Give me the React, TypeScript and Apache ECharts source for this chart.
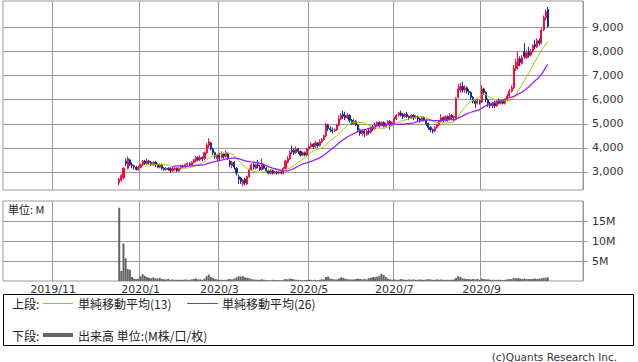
import React, { useEffect, useRef } from "react";
import * as echarts from "echarts";

// Trading calendar (TSE holidays falling on weekdays)
const HOLIDAYS = [
  "2019-10-14", "2019-10-22", "2019-11-04", "2019-12-31", "2020-01-01", "2020-01-02",
  "2020-01-03", "2020-01-13", "2020-02-11", "2020-02-24", "2020-03-20", "2020-04-29",
  "2020-05-04", "2020-05-05", "2020-05-06", "2020-07-23", "2020-07-24", "2020-08-10",
  "2020-09-21", "2020-09-22", "2020-11-03",
];
const CAL_START = "2019-09-27";
const CAL_END = "2020-11-10";
const DATA_START = "2019-12-17";
const LAST_MARK = "2020-09";

// [open, close, low, high] per trading day from DATA_START
const OHLC_DEC = [
  [2550, 2700, 2450, 2750], [2650, 2850, 2600, 2900], [2750, 3150, 2700, 3200], [3450, 3350, 3250, 3550],
  [3150, 3550, 3100, 3650], [3500, 3300, 3250, 3550], [3300, 3250, 3150, 3400], [3250, 3200, 3100, 3300],
  [3200, 3100, 3050, 3250], [3100, 3200, 3050, 3250],
];
const OHLC_JAN = [
  [3200, 3300, 3150, 3350], [3300, 3450, 3250, 3500], [3450, 3350, 3300, 3500], [3350, 3450, 3300, 3550],
  [3450, 3400, 3300, 3500], [3400, 3300, 3250, 3450], [3300, 3400, 3250, 3450], [3400, 3300, 3200, 3450],
  [3300, 3200, 3150, 3350], [3200, 3300, 3150, 3350], [3300, 3150, 3100, 3350], [3150, 3100, 3050, 3200],
  [3100, 3150, 3050, 3200], [3150, 3100, 3050, 3200], [3150, 3050, 2950, 3200], [3050, 3150, 3000, 3200],
  [3100, 3150, 3050, 3200], [3150, 3050, 3000, 3200], [3050, 3150, 3000, 3200],
];
const OHLC_FEB = [
  [3150, 3250, 3100, 3300], [3250, 3200, 3150, 3300], [3200, 3300, 3150, 3350], [3300, 3350, 3250, 3400],
  [3350, 3300, 3250, 3400], [3300, 3400, 3250, 3450], [3400, 3500, 3350, 3550], [3450, 3600, 3400, 3650],
  [3600, 3500, 3450, 3650], [3500, 3600, 3450, 3700], [3600, 3550, 3450, 3650], [3550, 3800, 3500, 3850],
  [3800, 4100, 3750, 4200], [4100, 4250, 4000, 4400], [4200, 3950, 3900, 4250], [3950, 3800, 3700, 4000],
  [3800, 3650, 3550, 3850], [3550, 3700, 3450, 3750],
];
const OHLC_MAR = [
  [3700, 3600, 3500, 3800], [3600, 3750, 3550, 3850], [3750, 3650, 3550, 3800], [3650, 3800, 3600, 3900],
  [3750, 3550, 3500, 3800], [3450, 3300, 3200, 3500], [3250, 3400, 3150, 3450], [3400, 3200, 3100, 3450],
  [3150, 2950, 2850, 3200], [2800, 2700, 2500, 2900], [2750, 2600, 2500, 2800], [2500, 2650, 2400, 2700],
  [2700, 2550, 2450, 2750], [2500, 2800, 2450, 2850], [2800, 3100, 2750, 3150], [3100, 3300, 3050, 3350],
  [3300, 3200, 3100, 3400], [3150, 3300, 3100, 3350], [3300, 3250, 3150, 3500], [3200, 3100, 3050, 3300],
  [3100, 3350, 3050, 3550],
];
const OHLC_APR = [
  [3300, 3150, 3100, 3350], [3150, 3050, 3000, 3200], [3050, 2950, 2900, 3100], [2950, 3050, 2900, 3100],
  [3050, 2950, 2900, 3100], [2950, 3000, 2900, 3050], [3000, 2950, 2900, 3050], [2950, 3000, 2900, 3050],
  [3000, 2950, 2900, 3050], [2950, 3150, 2900, 3200], [3150, 3450, 3100, 3500], [3400, 3550, 3350, 3650],
  [3550, 3800, 3500, 3900], [3900, 3850, 3750, 4100], [3900, 3800, 3700, 4000], [3800, 3950, 3750, 4050],
  [3950, 3850, 3750, 4000], [3850, 3700, 3650, 3900], [3700, 3800, 3650, 3850], [3800, 3700, 3650, 3850],
  [3700, 3950, 3650, 4000],
];
const OHLC_MAY = [
  [3950, 4050, 3900, 4100], [4050, 4150, 4000, 4250], [4150, 4050, 3950, 4200], [4050, 4200, 4000, 4300],
  [4200, 4100, 4000, 4250], [4100, 4250, 4050, 4350], [4250, 4350, 4200, 4400], [4350, 4500, 4300, 4550],
  [4500, 4950, 4450, 5050], [4950, 4800, 4700, 5000], [4800, 4750, 4650, 4900], [4750, 4700, 4600, 4850],
  [4700, 4750, 4650, 4800], [4750, 4950, 4700, 5000], [4950, 5200, 4900, 5350], [5200, 5350, 5150, 5450],
  [5400, 5300, 5200, 5550], [5350, 5250, 5150, 5500],
];
const OHLC_JUN = [
  [5250, 5350, 5200, 5450], [5350, 5150, 5050, 5400], [5150, 5000, 4950, 5200], [5000, 5100, 4950, 5200],
  [5100, 4950, 4900, 5150], [4950, 4750, 4650, 5000], [4750, 4600, 4500, 4800], [4600, 4700, 4500, 4750],
  [4700, 4600, 4450, 4750], [4550, 4700, 4500, 4750], [4700, 4650, 4550, 4800], [4650, 4850, 4600, 4900],
  [4850, 4800, 4700, 4950], [4800, 4950, 4750, 5050], [4950, 5050, 4900, 5100], [5050, 4950, 4850, 5100],
  [4950, 5050, 4900, 5100], [5050, 4900, 4850, 5100], [4900, 5000, 4850, 5050], [5000, 5100, 4950, 5150],
  [5100, 4950, 4750, 5150], [4950, 5050, 4900, 5100],
];
const OHLC_JUL = [
  [5050, 5200, 5000, 5300], [5200, 5350, 5150, 5400], [5350, 5450, 5300, 5500], [5450, 5350, 5300, 5550],
  [5400, 5300, 5200, 5450], [5300, 5400, 5250, 5450], [5400, 5300, 5250, 5500], [5300, 5250, 5150, 5350],
  [5250, 5350, 5200, 5400], [5350, 5250, 5150, 5400], [5250, 5300, 5200, 5350], [5300, 5200, 5100, 5350],
  [5200, 5150, 5050, 5250], [5150, 5250, 5100, 5300], [5250, 5150, 5100, 5300], [5150, 5000, 4900, 5200],
  [5000, 4850, 4750, 5050], [4850, 4750, 4650, 4900], [4750, 4700, 4600, 4800], [4700, 4850, 4650, 4900],
  [4850, 4950, 4800, 5000],
];
const OHLC_AUG = [
  [4950, 5100, 4900, 5150], [5100, 5250, 5050, 5400], [5250, 5150, 5050, 5300], [5150, 5300, 5100, 5350],
  [5300, 5200, 5100, 5350], [5200, 5350, 5150, 5450], [5350, 5250, 5150, 5400], [5250, 5300, 5100, 5350],
  [5250, 6050, 5200, 6100], [6100, 6450, 6050, 6650], [6400, 6550, 6300, 6700], [6550, 6400, 6300, 6750],
  [6400, 6500, 6300, 6600], [6500, 6350, 6250, 6550], [6350, 6300, 6200, 6450], [6300, 6100, 6000, 6350],
  [6100, 5950, 5850, 6150], [5950, 5850, 5650, 6000], [5850, 5950, 5800, 6050], [5950, 5900, 5800, 6000],
];
const OHLC_SEP = [
  [5900, 6450, 5850, 6600], [6450, 6300, 6200, 6500], [6300, 6000, 5900, 6350], [6000, 5850, 5700, 6050],
  [5850, 5750, 5650, 5900], [5750, 5850, 5650, 5900], [5850, 5750, 5650, 5950], [5750, 5950, 5700, 6000],
  [5950, 5850, 5800, 6050], [5850, 5950, 5800, 6000], [5950, 5850, 5800, 6000], [5850, 6000, 5800, 6050],
  [6000, 6150, 5950, 6250], [6150, 6350, 6100, 6450], [6350, 6500, 6300, 6600], [6500, 7300, 6450, 7450],
  [7300, 7550, 7200, 7700], [7400, 7700, 7250, 8000], [7700, 7550, 7400, 7800], [7500, 7750, 7450, 7850],
];
const OHLC_OCT = [
  [8000, 7800, 7700, 8350], [7750, 7950, 7700, 8050], [8000, 7850, 7750, 8200], [7850, 8000, 7800, 8100],
  [8000, 8250, 7950, 8300], [8300, 8200, 8100, 8500], [8200, 8450, 8150, 8550], [8450, 8350, 8250, 8550],
  [8350, 8900, 8300, 9000], [8900, 9400, 8850, 9500], [9400, 9650, 9300, 9750], [9750, 9050, 9000, 9850],
];

// Volume in millions of shares, per trading day from DATA_START
const VOL_DEC = [18.3, 2.5, 9.4, 5.7, 3.0, 2.8, 1.0, 0.6, 0.5, 0.6];
const VOL_JAN = [1.2, 1.7, 1.3, 1.0, 0.8, 0.7, 0.9, 0.7, 0.6, 0.8, 0.5, 0.4, 0.4, 0.5, 0.3, 0.4, 0.3, 0.3, 0.3];
const VOL_FEB = [0.3, 0.3, 0.4, 0.3, 0.3, 0.4, 0.5, 0.6, 0.4, 0.4, 0.3, 0.6, 1.2, 1.6, 1.0, 0.7, 0.5, 0.4];
const VOL_MAR = [0.3, 0.3, 0.2, 0.3, 0.4, 0.5, 0.4, 0.6, 0.9, 1.2, 1.1, 1.2, 0.9, 0.8, 0.7, 0.5, 0.4, 0.3, 0.3, 0.3, 0.4];
const VOL_APR = [0.3, 0.2, 0.2, 0.2, 0.3, 0.2, 0.2, 0.2, 0.2, 0.3, 0.5, 0.4, 0.6, 0.5, 0.4, 0.3, 0.3, 0.2, 0.2, 0.2, 0.3];
const VOL_MAY = [0.3, 0.3, 0.2, 0.3, 0.2, 0.3, 0.4, 0.4, 1.0, 1.1, 0.6, 0.5, 0.4, 0.4, 0.6, 0.9, 0.8, 0.6];
const VOL_JUN = [0.5, 0.4, 0.4, 0.4, 0.5, 0.6, 0.5, 0.4, 0.5, 0.4, 0.7, 0.8, 1.0, 0.9, 1.1, 1.3, 1.8, 1.5, 1.0, 0.6, 0.4, 0.3];
const VOL_JUL = [0.4, 0.3, 0.3, 0.5, 0.4, 0.3, 0.3, 0.4, 0.3, 0.4, 0.3, 0.3, 0.4, 0.3, 0.3, 0.4, 0.5, 0.4, 0.3, 0.3, 0.4];
const VOL_AUG = [0.3, 0.4, 0.3, 0.3, 0.3, 0.3, 0.3, 0.4, 0.8, 1.2, 1.0, 0.7, 0.6, 0.5, 0.5, 0.4, 0.5, 0.4, 0.5, 0.3];
const VOL_SEP = [0.6, 0.5, 0.4, 0.4, 0.3, 0.3, 0.3, 0.3, 0.3, 0.3, 0.2, 0.3, 0.4, 0.5, 0.5, 0.8, 0.7, 0.7, 0.6, 0.5];
const VOL_OCT = [0.6, 0.5, 0.5, 0.5, 0.5, 0.6, 0.5, 0.6, 0.7, 0.8, 0.8, 0.9];

const PRICE_TICKS = [3000, 4000, 5000, 6000, 7000, 8000, 9000];
const VOLUME_TICKS = [5, 10, 15];

const RED = "#ff0a3c";
const BLUE = "#0a3296";
const GREEN = "#99cc00";
const PURPLE = "#9a22f0";
const GRAY = "#666666";
const GRID = "#999999";
const JP = "'Noto Sans CJK JP', 'DejaVu Sans', sans-serif";
const NUM = "'DejaVu Sans', sans-serif";

function tradingDays(): string[] {
  const out: string[] = [];
  const d = new Date(CAL_START + "T00:00:00Z");
  const end = new Date(CAL_END + "T00:00:00Z");
  while (d <= end) {
    const wd = d.getUTCDay();
    const s = d.toISOString().slice(0, 10);
    if (wd !== 0 && wd !== 6 && HOLIDAYS.indexOf(s) < 0) out.push(s);
    d.setUTCDate(d.getUTCDate() + 1);
  }
  return out;
}

function movingAverage(closes: (number | null)[], n: number): (number | string)[] {
  return closes.map((_, i) => {
    if (i < n - 1) return "-";
    let s = 0;
    for (let j = i - n + 1; j <= i; j++) {
      const v = closes[j];
      if (v == null) return "-";
      s += v;
    }
    return Math.round(s / n);
  });
}

export default function App() {
  const ref = useRef<HTMLDivElement>(null);

  useEffect(() => {
    if (!ref.current) return;
    const chart = echarts.init(ref.current, undefined, { renderer: "svg" });

    const dates = tradingDays();
    const ohlc = [
      ...OHLC_DEC, ...OHLC_JAN, ...OHLC_FEB, ...OHLC_MAR, ...OHLC_APR, ...OHLC_MAY,
      ...OHLC_JUN, ...OHLC_JUL, ...OHLC_AUG, ...OHLC_SEP, ...OHLC_OCT,
    ];
    const vols = [
      ...VOL_DEC, ...VOL_JAN, ...VOL_FEB, ...VOL_MAR, ...VOL_APR, ...VOL_MAY,
      ...VOL_JUN, ...VOL_JUL, ...VOL_AUG, ...VOL_SEP, ...VOL_OCT,
    ];
    const startIdx = dates.indexOf(DATA_START);
    const candle: any[] = dates.map((_, i) => {
      const k = i - startIdx;
      return k >= 0 && k < ohlc.length ? ohlc[k] : "-";
    });
    const volume: any[] = dates.map((_, i) => {
      const k = i - startIdx;
      return k >= 0 && k < vols.length ? vols[k] : "-";
    });
    const closes = dates.map((_, i) => {
      const k = i - startIdx;
      return k >= 0 && k < ohlc.length ? ohlc[k][1] : null;
    });
    const ma13 = movingAverage(closes, 13);
    const ma26 = movingAverage(closes, 26);

    const isMark = (index: number) => {
      if (index <= 0) return false;
      if (dates[index].slice(0, 7) > LAST_MARK) return false;
      const m = dates[index].slice(5, 7);
      if (m === dates[index - 1].slice(5, 7)) return false;
      return parseInt(m, 10) % 2 === 1;
    };

    const option: any = {
      animation: false,
      textStyle: { fontFamily: NUM },
      grid: [
        { left: 3, top: 1, width: 580, height: 189, show: true, borderColor: GRID, borderWidth: 1 },
        { left: 3, top: 201, width: 580, height: 80, show: true, borderColor: GRID, borderWidth: 1 },
      ],
      xAxis: [
        {
          type: "category", gridIndex: 0, data: dates, boundaryGap: true,
          axisLine: { show: false }, axisTick: { show: false }, axisLabel: { show: false },
          splitLine: { show: true, interval: (i: number) => isMark(i), lineStyle: { color: GRID, width: 1 } },
        },
        {
          type: "category", gridIndex: 1, data: dates, boundaryGap: true,
          axisLine: { show: false }, axisTick: { show: false },
          axisLabel: {
            show: true, interval: (i: number) => isMark(i), margin: 3, fontSize: 11, color: "#333",
            fontFamily: NUM,
            formatter: (v: string) => `${v.slice(0, 4)}/${parseInt(v.slice(5, 7), 10)}`,
          },
          splitLine: { show: true, interval: (i: number) => isMark(i), lineStyle: { color: GRID, width: 1 } },
        },
      ],
      yAxis: [
        {
          type: "value", gridIndex: 0, position: "right", min: 2250, max: 10100, scale: true,
          axisLine: { show: false },
          axisTick: { show: true, length: 5, customValues: PRICE_TICKS, lineStyle: { color: GRID } },
          axisLabel: {
            customValues: PRICE_TICKS, margin: 9, fontSize: 11, color: "#333", fontFamily: NUM,
            formatter: (v: number) => v.toLocaleString("en-US"),
          },
          splitLine: { show: true, lineStyle: { color: GRID, width: 1 } },
        },
        {
          type: "value", gridIndex: 1, position: "right", min: 0, max: 20,
          axisLine: { show: false },
          axisTick: { show: true, length: 5, customValues: VOLUME_TICKS, lineStyle: { color: GRID } },
          axisLabel: {
            customValues: VOLUME_TICKS, margin: 9, fontSize: 11, color: "#333", fontFamily: NUM,
            formatter: (v: number) => `${v}M`,
          },
          splitLine: { show: true, lineStyle: { color: GRID, width: 1 } },
        },
      ],
      series: [
        {
          type: "candlestick", xAxisIndex: 0, yAxisIndex: 0, data: candle, barWidth: 1.6,
          itemStyle: { color: RED, color0: BLUE, borderColor: RED, borderColor0: BLUE, borderWidth: 1 },
        },
        {
          type: "line", xAxisIndex: 0, yAxisIndex: 0, data: ma13, showSymbol: false, symbol: "none",
          lineStyle: { color: GREEN, width: 1 }, z: 3,
        },
        {
          type: "line", xAxisIndex: 0, yAxisIndex: 0, data: ma26, showSymbol: false, symbol: "none",
          lineStyle: { color: PURPLE, width: 1.3 }, z: 3,
        },
        {
          type: "bar", xAxisIndex: 1, yAxisIndex: 1, data: volume, barCategoryGap: "5%",
          itemStyle: { color: GRAY },
        },
      ],
      graphic: [
        { type: "text", left: 8, top: 203, style: { text: "単位: M", font: `11px ${JP}`, fill: "#222" } },
        {
          type: "rect", shape: { x: 3.5, y: 294.5, width: 630, height: 51 },
          style: { fill: "none", stroke: "#000", lineWidth: 1 },
        },
        { type: "text", x: 12, y: 303, style: { text: "上段:", font: `12px ${JP}`, fill: "#222", textVerticalAlign: "middle" } },
        { type: "line", shape: { x1: 43, y1: 303.5, x2: 73, y2: 303.5 }, style: { stroke: GREEN, lineWidth: 1 } },
        { type: "text", x: 78, y: 303, style: { text: "単純移動平均(13)", font: `12px ${JP}`, fill: "#222", textVerticalAlign: "middle" } },
        { type: "line", shape: { x1: 187, y1: 303.5, x2: 218, y2: 303.5 }, style: { stroke: PURPLE, lineWidth: 1 } },
        { type: "text", x: 222, y: 303, style: { text: "単純移動平均(26)", font: `12px ${JP}`, fill: "#222", textVerticalAlign: "middle" } },
        { type: "text", x: 12, y: 335, style: { text: "下段:", font: `12px ${JP}`, fill: "#222", textVerticalAlign: "middle" } },
        { type: "line", shape: { x1: 43, y1: 335, x2: 73, y2: 335 }, style: { stroke: GRAY, lineWidth: 4 } },
        { type: "text", x: 78, y: 335, style: { text: "出来高 単位:(M株/口/枚)", font: `12px ${JP}`, fill: "#222", textVerticalAlign: "middle" } },
        {
          type: "text", x: 617, y: 357,
          style: { text: "(c)Quants Research Inc.", font: `10.5px ${NUM}`, fill: "#333", textAlign: "right", textVerticalAlign: "middle" },
        },
      ],
    };

    chart.setOption(option);
    return () => chart.dispose();
  }, []);

  return (
    <div
      ref={ref}
      style={{ position: "fixed", left: 0, top: 0, width: 638, height: 362, background: "#fff" }}
    />
  );
}
